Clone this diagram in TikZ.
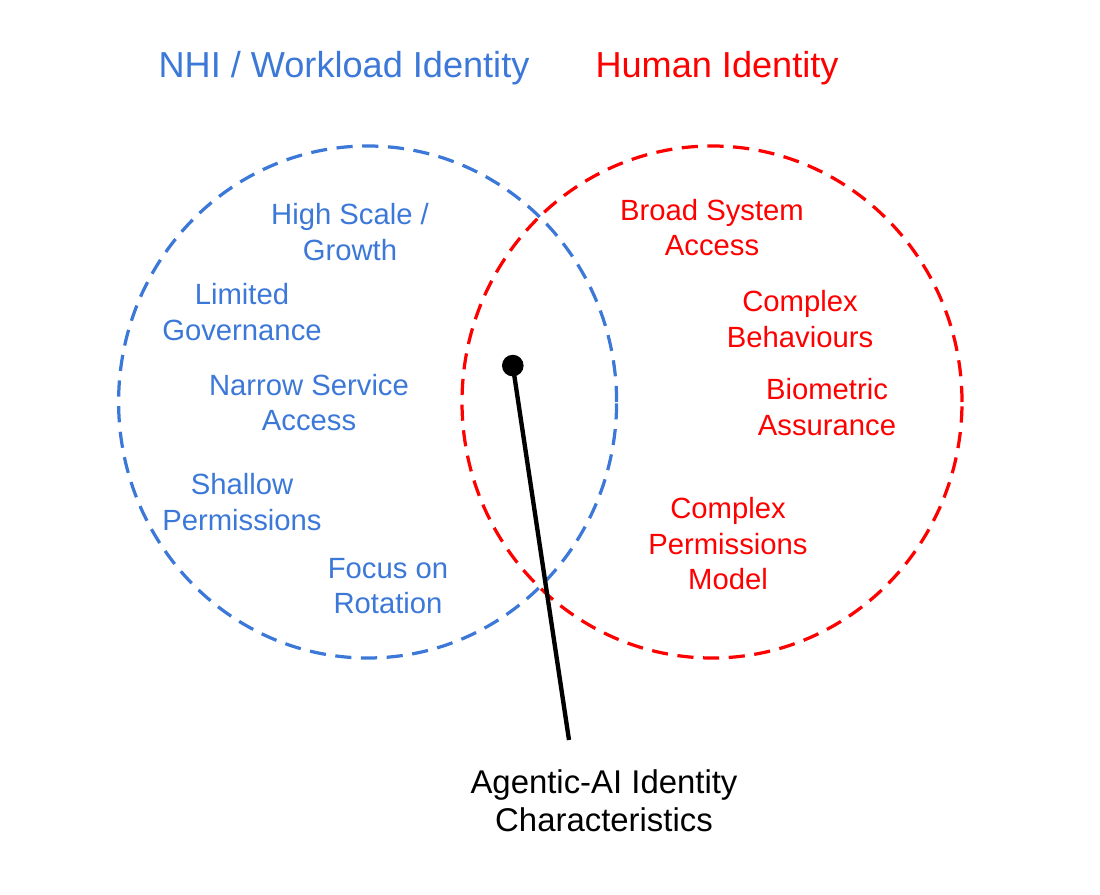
\documentclass[tikz,border=0pt]{standalone}
\usepackage{fontspec}
\setmainfont{Liberation Sans}
\usetikzlibrary{arrows.meta}
\definecolor{nhiblue}{HTML}{3C78D8}
\definecolor{humanred}{HTML}{FF0000}

\begin{document}
\begin{tikzpicture}
\tikzstyle{title}=[anchor=base,inner sep=0pt,font=\fontsize{25.7}{30}\selectfont]
\tikzstyle{trait}=[align=center,inner sep=0pt,font=\fontsize{20.8}{25.2}\selectfont]
\tikzstyle{ring}=[dash pattern=on 11.5pt off 6.8pt,line width=2.3pt]
\useasboundingbox (0,0) rectangle (27.5,-22.375);
\node [title,text=nhiblue] (n1) at (8.6,-1.95) {NHI / Workload Identity};
\node [title,text=humanred] (n2) at (17.925,-1.95) {Human Identity};
\draw [ring,nhiblue] (9.19,-10.05) ellipse [x radius=6.225,y radius=6.4];
\draw [ring,humanred] (17.8,-10.05) ellipse [x radius=6.25,y radius=6.4];
\node [trait,text=nhiblue] (n3) at (8.75,-5.8) {High Scale /\\Growth};
\node [trait,text=nhiblue] (n4) at (6.05,-7.8) {Limited\\Governance};
\node [trait,text=nhiblue] (n5) at (7.725,-10.06) {Narrow Service\\Access};
\node [trait,text=nhiblue] (n6) at (6.05,-12.55) {Shallow\\Permissions};
\node [trait,text=nhiblue] (n7) at (9.7,-14.65) {Focus on\\Rotation};
\node [trait,text=humanred] (n8) at (17.8,-5.69) {Broad System\\Access};
\node [trait,text=humanred] (n9) at (20,-7.975) {Complex\\Behaviours};
\node [trait,text=humanred] (n10) at (20.675,-10.175) {Biometric\\Assurance};
\node [trait,text=humanred] (n11) at (18.2,-13.59) {Complex\\Permissions\\Model};
\node [align=center,inner sep=0pt,font=\fontsize{23.4}{26.9}\selectfont] (n12) at (15.1,-20.025) {Agentic-AI Identity\\Characteristics};
\node [circle,fill,inner sep=0pt,minimum size=0.54cm] (dot) at (12.82,-9.14) {};
\coordinate (tip) at (14.225,-18.5);
\draw [line width=3.1pt] (dot.center) -- (tip);
\end{tikzpicture}
\end{document}
